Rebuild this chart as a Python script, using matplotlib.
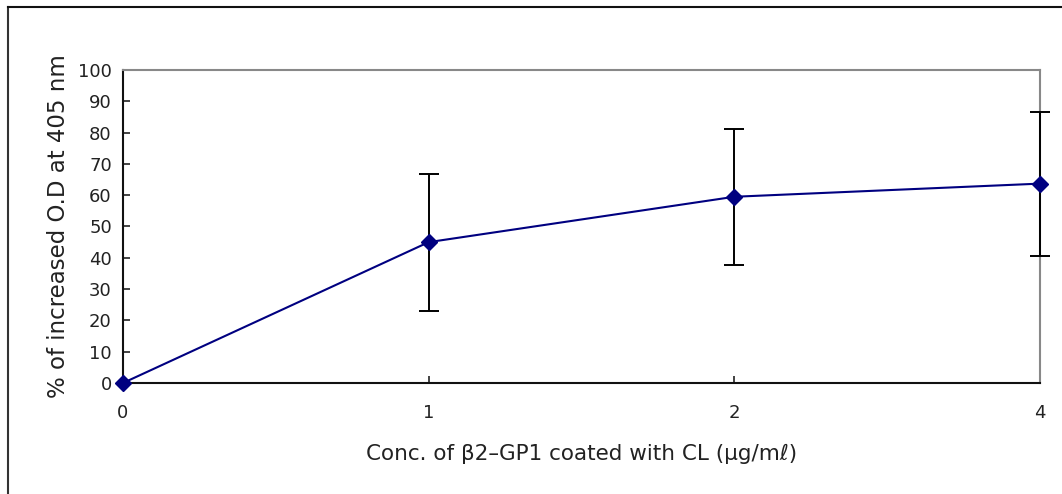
import numpy as np
import matplotlib.pyplot as plt
from matplotlib.lines import Line2D

# Data
conc_labels = ['0', '1', '2', '4']
od_increase = [0, 45, 59.5, 63.7]
od_err_low = [0, 22, 21.8, 23.1]
od_err_high = [0, 21.7, 21.7, 22.9]

fig = plt.figure(figsize=(10.62, 4.94), dpi=100)
ax = fig.add_axes([0.1158, 0.2247, 0.8635, 0.6336])

xpos = np.arange(len(conc_labels))
# no error bar on the zero point
ax.errorbar(xpos[1:], od_increase[1:], yerr=[od_err_low[1:], od_err_high[1:]], fmt='none',
            ecolor='black', elinewidth=1.4, capsize=7, capthick=1.4, clip_on=False, zorder=3)
ax.plot(xpos, od_increase, color='#000080', lw=1.5, marker='D', markersize=8,
        clip_on=False, zorder=4)

ax.set_xlim(0, 3)
ax.set_ylim(0, 100)
ax.set_yticks(np.arange(0, 101, 10))
ax.set_xticks(xpos)
ax.set_xticklabels(conc_labels)
ax.tick_params(axis='both', direction='in', length=5, width=1.2, labelsize=13,
               colors='#222222')
ax.tick_params(axis='x', pad=15)
ax.tick_params(axis='y', pad=8)

for side in ['top', 'right']:
    ax.spines[side].set_color('#888888')
    ax.spines[side].set_linewidth(1.5)
for side in ['left', 'bottom']:
    ax.spines[side].set_color('#111111')
    ax.spines[side].set_linewidth(1.5)

ax.set_ylabel('% of increased O.D at 405 nm', fontsize=16.5, color='#222222', labelpad=6)
ax.set_xlabel('Conc. of β2–GP1 coated with CL (μg/mℓ)', fontsize=15.5, color='#222222',
              labelpad=16)

# outer frame (left and top edges)
fig.add_artist(Line2D([8 / 1062, 8 / 1062], [0, 1 - 7 / 494], color='#333333', lw=1.5,
                      transform=fig.transFigure))
fig.add_artist(Line2D([8 / 1062, 1], [1 - 7 / 494, 1 - 7 / 494], color='#111111', lw=1.5,
                      transform=fig.transFigure))

fig.savefig('out.png', dpi=100)
